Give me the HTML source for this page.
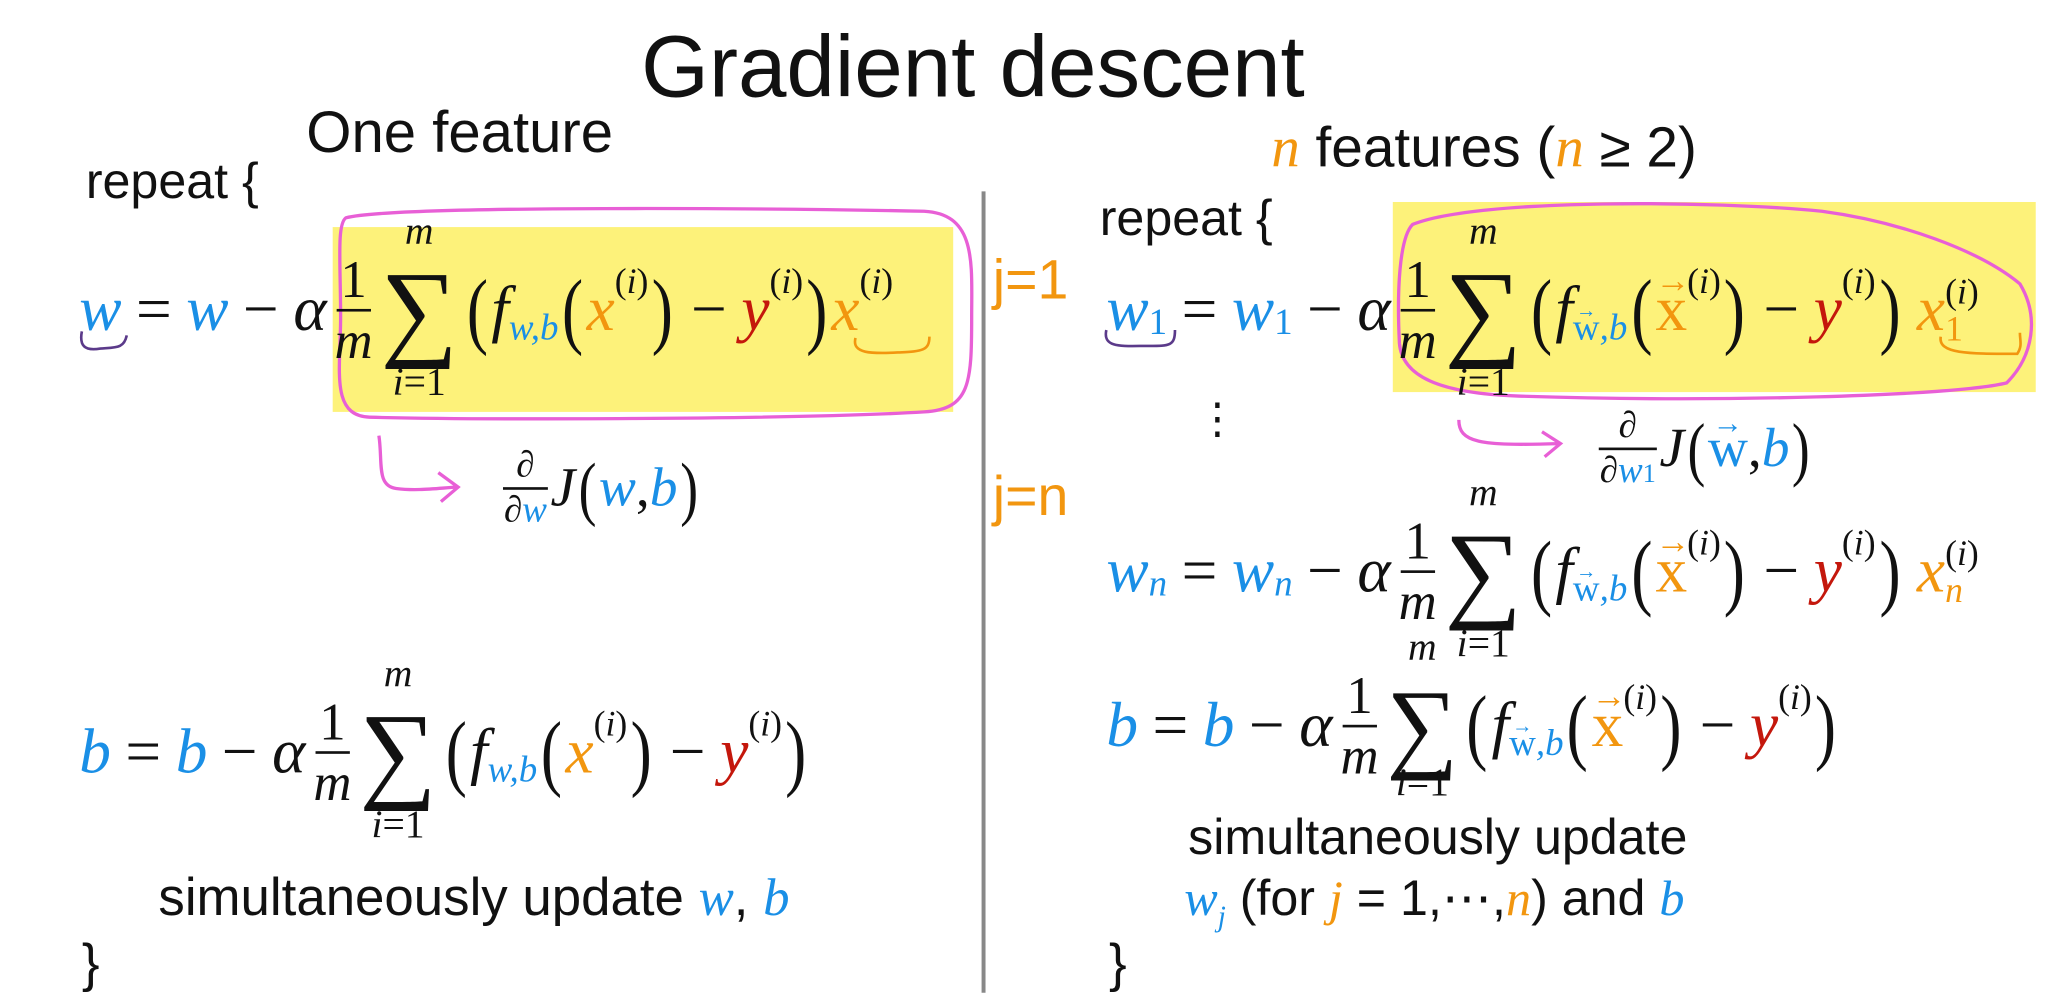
<!DOCTYPE html>
<html><head><meta charset="utf-8"><style>
html,body{margin:0;padding:0;background:#fff;}
body{width:2070px;height:997px;overflow:hidden;position:relative;}
#s{position:absolute;left:0;top:0;width:1568px;height:755px;transform:scale(1.3202);transform-origin:0 0;}
.t{position:absolute;font-family:"Liberation Sans",sans-serif;color:#111;white-space:nowrap;}
.eq{position:absolute;font-family:"Liberation Serif",serif;font-style:italic;font-size:48px;color:#111;white-space:nowrap;height:80px;line-height:80px;display:flex;align-items:center;}
.eq>span{display:inline-block;}
.n{font-style:normal;}
.B{color:#1a8fe6}.O{color:#f2960f}.R{color:#c4170c}
.eq span.op{font-style:normal;margin:0 11px;}
.eq span.frac{display:inline-flex;flex-direction:column;align-items:center;line-height:1;font-size:40px;margin:0 2px 0 6px;}
.eq span.frac .l{display:block;border-top:2px solid #111;width:26px;margin:2px 0;}
.eq span.sum{position:relative;font-style:normal;font-size:82px;line-height:80px;margin:0 4px;}
.sum .u{position:absolute;left:50%;transform:translateX(-50%);top:-34px;font-size:30px;font-style:italic;line-height:30px;}
.sum .d{position:absolute;left:50%;transform:translateX(-50%);top:80px;font-size:30px;font-style:italic;line-height:30px;}
.eq span.p{font-style:normal;font-size:64px;transform:scaleX(0.75);}
.eq span.sub{font-size:28px;position:relative;top:14px;}
.eq span.sup{font-size:27px;position:relative;top:-22px;font-style:normal;}
.eq span.v{display:inline-block;line-height:1;position:relative;font-style:normal;}
.v:before{content:"→";position:absolute;left:0;right:0;text-align:center;top:0.05em;font-size:0.55em;line-height:0;}
</style></head><body><div id="s">
<svg width="1568" height="755" style="position:absolute;left:0;top:0">
<rect x="252" y="172" width="470" height="140" fill="#fdf27a"/>
<rect x="1055" y="153" width="487" height="144" fill="#fdf27a"/>
<line x1="745" y1="145" x2="745" y2="752" stroke="#888" stroke-width="3"/>
<path d="M262 165 C300 155 600 158 700 160 C740 162 736 200 736 240 C736 290 735 310 700 312 C600 318 350 318 280 316 C250 315 258 280 258 240 C258 200 255 170 262 165 Z" fill="none" stroke="#e85fd6" stroke-width="2.5"/>
<path d="M1070 170 C1120 150 1300 152 1380 160 C1440 168 1500 190 1530 215 C1545 240 1540 270 1520 290 C1480 300 1300 305 1150 300 C1090 298 1062 285 1060 260 C1058 220 1060 180 1070 170 Z" fill="none" stroke="#e85fd6" stroke-width="2.5"/>
<path d="M287 330 C290 350 285 368 300 370 C315 372 330 370 345 369 M332 358 L347 369 L334 380" fill="none" stroke="#e85fd6" stroke-width="2.5"/>
<path d="M1105 318 C1105 335 1120 338 1180 336 M1168 327 L1182 336 L1170 346" fill="none" stroke="#e85fd6" stroke-width="2.5"/>
<path d="M62 251 C60 262 64 266 76 264 C88 263 94 264 96 254" fill="none" stroke="#5b3a8a" stroke-width="2"/>
<path d="M648 256 C645 268 660 268 680 267 C698 266 704 266 704 255" fill="none" stroke="#f2960f" stroke-width="2"/>
<path d="M838 250 C835 264 850 262 870 262 C886 262 890 262 890 250" fill="none" stroke="#5b3a8a" stroke-width="2"/>
<path d="M1470 255 C1468 268 1490 268 1528 268 C1532 262 1530 258 1530 252" fill="none" stroke="#f2960f" stroke-width="2"/>
</svg>
<div class="t" style="left:0;width:1474px;text-align:center;top:12px;font-size:66px;">Gradient descent</div>
<div class="t" style="left:232px;top:76px;font-size:44px;">One feature</div>
<div class="t" style="left:963px;top:88px;font-size:43px;"><i class="O" style="font-family:'Liberation Serif',serif">n</i> features (<i class="O" style="font-family:'Liberation Serif',serif">n</i> ≥ 2)</div>
<div class="t" style="left:65px;top:117px;font-size:38px;">repeat {</div>
<div class="t" style="left:833px;top:145px;font-size:38px;">repeat {</div>
<div class="t O" style="left:752px;top:188px;font-size:42px;">j=1</div>
<div class="t O" style="left:752px;top:352px;font-size:42px;">j=n</div>
<div class="t" style="left:906px;top:298px;font-size:32px;">⋮</div>

<div class="eq" style="left:60px;top:195px;"><span class="B">w</span><span class="op">=</span><span class="B">w</span><span class="op">−</span><span>α</span><span class="frac"><span class="n">1</span><span class="l"></span><span>m</span></span><span class="sum">∑<span class="u">m</span><span class="d">i<span class="n">=1</span></span></span><span class="p">(</span><span>f</span><span class="sub B">w,b</span><span class="p">(</span><span class="O">x</span><span class="sup">(<i>i</i>)</span><span class="p">)</span><span class="op">−</span><span class="R">y</span><span class="sup">(<i>i</i>)</span><span class="p">)</span><span class="O">x</span><span class="sup">(<i>i</i>)</span></div>

<div class="eq" style="left:375px;top:330px;font-size:42px;"><span class="frac" style="font-size:28px"><span class="n">∂</span><span class="l" style="width:34px"></span><span>∂<span class="B">w</span></span></span><span>J</span><span class="p" style="font-size:54px">(</span><span class="B">w</span><span class="n">, </span><span class="B">b</span><span class="p" style="font-size:54px">)</span></div>

<div class="eq" style="left:60px;top:530px;"><span class="B">b</span><span class="op">=</span><span class="B">b</span><span class="op">−</span><span>α</span><span class="frac"><span class="n">1</span><span class="l"></span><span>m</span></span><span class="sum">∑<span class="u">m</span><span class="d">i<span class="n">=1</span></span></span><span class="p">(</span><span>f</span><span class="sub B">w,b</span><span class="p">(</span><span class="O">x</span><span class="sup">(<i>i</i>)</span><span class="p">)</span><span class="op">−</span><span class="R">y</span><span class="sup">(<i>i</i>)</span><span class="p">)</span></div>

<div class="t" style="left:120px;top:656px;font-size:40px;">simultaneously update <i class="B" style="font-family:'Liberation Serif',serif">w</i>, <i class="B" style="font-family:'Liberation Serif',serif">b</i></div>
<div class="t" style="left:62px;top:708px;font-size:40px;">}</div>

<div class="eq" style="left:838px;top:195px;"><span class="B">w</span><span class="sub B n" style="top:10px">1</span><span class="op">=</span><span class="B">w</span><span class="sub B n" style="top:10px">1</span><span class="op">−</span><span>α</span><span class="frac"><span class="n">1</span><span class="l"></span><span>m</span></span><span class="sum">∑<span class="u">m</span><span class="d">i<span class="n">=1</span></span></span><span class="p">(</span><span>f</span><span class="sub B"><span class="v">w</span>,b</span><span class="p">(</span><span class="O v">x</span><span class="sup">(<i>i</i>)</span><span class="p">)</span><span class="op">−</span><span class="R">y</span><span class="sup">(<i>i</i>)</span><span class="p">)</span><span class="O" style="margin-left:10px">x</span><span style="display:inline-flex;flex-direction:column;font-size:27px;line-height:28px"><span class="n">(<i>i</i>)</span><span class="O n">1</span></span></div>

<div class="eq" style="left:1205px;top:300px;font-size:42px;"><span class="frac" style="font-size:28px"><span class="n">∂</span><span class="l" style="width:44px"></span><span>∂<span class="B">w</span><span class="B n" style="font-size:20px">1</span></span></span><span>J</span><span class="p" style="font-size:54px">(</span><span class="B v">w</span><span class="n">, </span><span class="B">b</span><span class="p" style="font-size:54px">)</span></div>

<div class="eq" style="left:838px;top:393px;"><span class="B">w</span><span class="sub B" style="top:10px">n</span><span class="op">=</span><span class="B">w</span><span class="sub B" style="top:10px">n</span><span class="op">−</span><span>α</span><span class="frac"><span class="n">1</span><span class="l"></span><span>m</span></span><span class="sum">∑<span class="u">m</span><span class="d">i<span class="n">=1</span></span></span><span class="p">(</span><span>f</span><span class="sub B"><span class="v">w</span>,b</span><span class="p">(</span><span class="O v">x</span><span class="sup">(<i>i</i>)</span><span class="p">)</span><span class="op">−</span><span class="R">y</span><span class="sup">(<i>i</i>)</span><span class="p">)</span><span class="O" style="margin-left:10px">x</span><span style="display:inline-flex;flex-direction:column;font-size:27px;line-height:28px"><span class="n">(<i>i</i>)</span><span class="O">n</span></span></div>

<div class="eq" style="left:838px;top:510px;"><span class="B">b</span><span class="op">=</span><span class="B">b</span><span class="op">−</span><span>α</span><span class="frac"><span class="n">1</span><span class="l"></span><span>m</span></span><span class="sum" style="font-size:76px">∑<span class="u">m</span><span class="d" style="top:68px">i<span class="n">=1</span></span></span><span class="p">(</span><span>f</span><span class="sub B"><span class="v">w</span>,b</span><span class="p">(</span><span class="O v">x</span><span class="sup">(<i>i</i>)</span><span class="p">)</span><span class="op">−</span><span class="R">y</span><span class="sup">(<i>i</i>)</span><span class="p">)</span></div>

<div class="t" style="left:900px;top:614px;font-size:38px;">simultaneously update</div>
<div class="t" style="left:897px;top:658px;font-size:38px;"><i class="B" style="font-family:'Liberation Serif',serif">w<sub style="font-size:22px">j</sub></i> (for <i class="O" style="font-family:'Liberation Serif',serif">j</i> = 1,⋯,<i class="O" style="font-family:'Liberation Serif',serif">n</i>) and <i class="B" style="font-family:'Liberation Serif',serif">b</i></div>
<div class="t" style="left:840px;top:708px;font-size:40px;">}</div>
</div></body></html>
